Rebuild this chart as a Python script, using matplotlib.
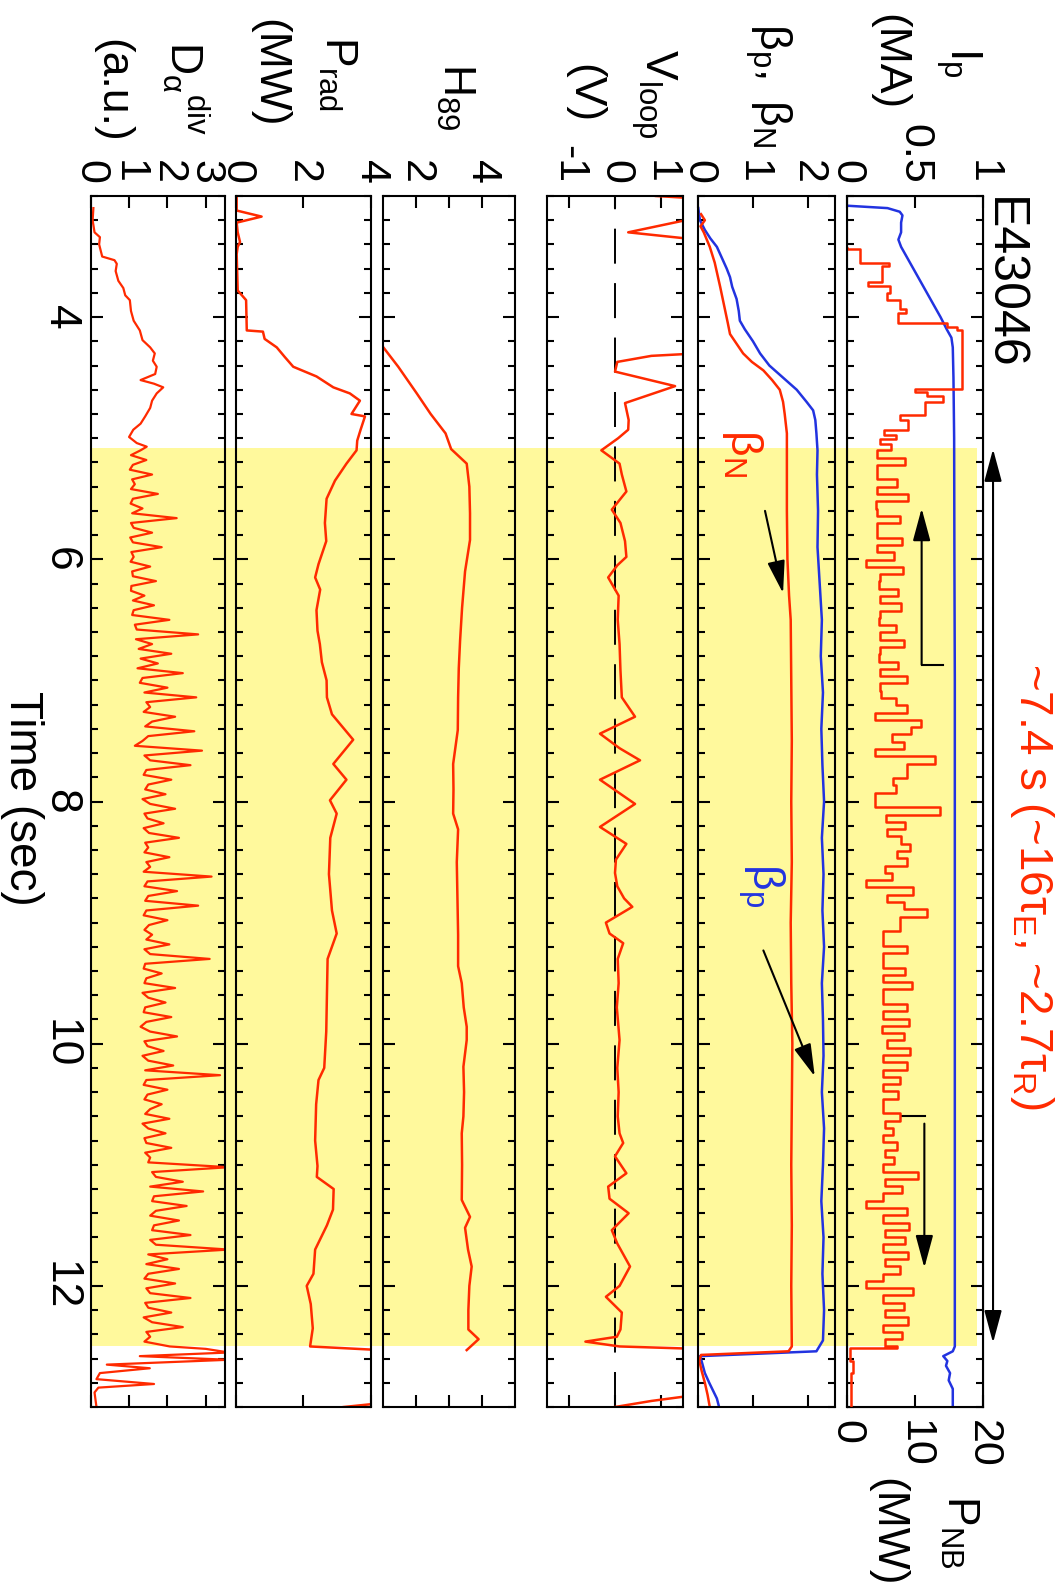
import numpy as np
import matplotlib
matplotlib.use('Agg')
import matplotlib.pyplot as plt
from matplotlib.patches import Rectangle
from matplotlib.ticker import MultipleLocator

plt.rcParams['font.family'] = ['Liberation Sans', 'DejaVu Sans']
plt.rcParams['mathtext.fontset'] = 'custom'
plt.rcParams['mathtext.rm'] = 'Liberation Sans'
plt.rcParams['mathtext.it'] = 'Liberation Sans:italic'
plt.rcParams['mathtext.bf'] = 'Liberation Sans:bold'

RED = '#ff2a00'
BLUE = '#2233e0'
YELLOW = '#fff99c'

# steady-state window (s)
window = (5.08, 12.50)

# plasma current (MA)
ip_t = [3.08, 3.10, 3.13, 3.16, 3.22, 3.30, 3.36, 3.42, 3.50, 3.60, 3.70, 3.80, 3.90,
        4.00, 4.10, 4.17, 4.25, 4.50, 5.00, 6.00, 7.00, 8.00, 9.00, 10.00, 11.00, 12.00,
        12.50, 12.54, 12.58, 12.62, 12.66, 12.72, 12.78, 12.85, 13.00]
ip = [0.0, 0.30, 0.39, 0.41, 0.40, 0.40, 0.38, 0.40, 0.44, 0.49, 0.54, 0.59, 0.64,
      0.69, 0.735, 0.77, 0.78, 0.785, 0.79, 0.792, 0.795, 0.795, 0.795, 0.795, 0.795, 0.795,
      0.795, 0.78, 0.71, 0.74, 0.73, 0.76, 0.75, 0.78, 0.78]

# NB power (MW), ramp-up part
pnb_t_ramp = [3.43, 3.44, 3.55, 3.58, 3.71, 3.74, 3.80, 3.86, 3.93, 3.97, 4.05, 4.08, 4.11,
              4.59, 4.62, 4.65, 4.70, 4.81, 4.85, 4.93, 4.97, 5.01, 5.05]
pnb_ramp = [0.0, 1.96, 6.2, 5.2, 3.2, 6.3, 5.9, 7.8, 8.7, 7.6, 14.7, 16.2, 16.9,
            10.0, 11.8, 14.2, 11.5, 7.8, 9.0, 5.5, 7.2, 4.9, 6.5]
# NB power during the feedback-controlled phase, one sample per 0.06 s from 5.10 s
pnb_flat = [4.4, 8.6, 4.4, 4.5, 7.4, 4.4, 9.0, 4.3, 4.5, 7.8, 4.4, 4.4, 8.2, 4.5, 7.0,
            2.9, 8.3, 4.9, 4.8, 7.6,
            4.9, 8.0, 4.9, 4.8, 7.3, 4.9, 8.5, 4.9, 4.8, 7.6, 4.9, 8.8, 4.9, 5.0,
            7.2, 8.8, 4.2, 11.0, 9.4, 6.6, 8.4,
            4.2, 13.0,
            8.8, 8.8, 6.8, 7.3, 4.2, 4.2, 13.7,
            5.8, 8.6, 6.0, 8.0, 9.3, 7.4, 8.8,
            5.6, 6.6, 2.9, 9.8, 6.0, 8.5,
            11.8, 7.8, 7.8, 5.4,
            5.4, 8.8, 5.4, 5.4, 8.6, 5.4, 9.6, 5.4, 5.4, 8.9, 5.4,
            9.2, 5.2, 8.5, 6.0, 9.3, 5.3, 8.8,
            5.4, 7.8, 5.4, 7.6, 5.4, 5.4, 7.8,
            5.6, 6.8, 5.4, 7.4, 5.6, 6.9, 5.4, 10.5,
            5.6, 8.2, 5.4, 2.9, 8.8,
            5.4, 9.2, 5.6, 8.6, 5.4, 9.0, 5.6, 7.8, 5.4,
            2.9, 9.8, 5.4, 8.4, 5.6, 9.0, 5.4, 8.2, 5.6, 7.4]
pnb_t_end = [12.51, 12.62, 12.72, 13.00]
pnb_end = [0.5, 0.9, 0.6, 0.6]

# poloidal and normalised beta
bp_t = [3.10, 3.20, 3.28, 3.35, 3.42, 3.50, 3.60, 3.67, 3.75, 3.85, 3.95, 4.03, 4.10, 4.20,
        4.30, 4.40, 4.50, 4.60, 4.70, 4.77, 4.85, 4.96, 5.10, 5.30, 5.60, 5.90, 6.20, 6.50,
        6.80, 7.10, 7.40, 7.70, 8.00, 8.30, 8.60, 8.90, 9.20, 9.50, 9.80, 10.10, 10.40,
        10.70, 11.00, 11.30, 11.60, 11.90, 12.20, 12.45, 12.54, 12.58, 12.62, 12.72,
        12.80, 12.93, 13.00]
bp = [0.00, 0.03, 0.12, 0.22, 0.34, 0.42, 0.52, 0.58, 0.62, 0.70, 0.74, 0.76, 0.85, 1.00,
      1.13, 1.30, 1.55, 1.80, 1.98, 2.10, 2.14, 2.16, 2.18, 2.17, 2.19, 2.18, 2.22, 2.26,
      2.24, 2.28, 2.25, 2.27, 2.30, 2.26, 2.29, 2.27, 2.30, 2.26, 2.28, 2.29, 2.26,
      2.30, 2.28, 2.25, 2.29, 2.27, 2.30, 2.28, 2.16, 0.03, 0.06, 0.12,
      0.20, 0.34, 0.38]
bn_t = [3.15, 3.20, 3.25, 3.30, 3.42, 3.55, 3.65, 3.75, 3.90, 4.05, 4.14, 4.22, 4.30, 4.37,
        4.44, 4.52, 4.60, 4.70, 4.80, 4.96, 5.20, 5.60, 6.00, 6.30, 6.50, 7.00, 7.50, 8.00,
        8.50, 9.00, 9.50, 10.00, 10.50, 11.00, 11.50, 12.00, 12.50, 12.54, 12.57, 12.62,
        12.70, 12.80, 12.90, 13.00]
bn = [0.05, 0.12, 0.04, 0.10, 0.21, 0.30, 0.35, 0.40, 0.47, 0.54, 0.58, 0.70, 0.82, 0.98,
      1.19, 1.35, 1.49, 1.55, 1.58, 1.62, 1.62, 1.62, 1.63, 1.66, 1.69, 1.70, 1.71, 1.70,
      1.71, 1.69, 1.70, 1.72, 1.71, 1.70, 1.71, 1.70, 1.71, 1.65, 0.05, 0.02,
      0.06, 0.12, 0.17, 0.21]

# loop voltage (V)
vl_t = [3.00, 3.02, 3.18, 3.30, 3.36, 4.30, 4.32, 4.37, 4.45, 4.57, 4.71, 4.85, 4.93, 5.00,
        5.10, 5.21, 5.30, 5.44, 5.59, 5.70, 5.85, 5.98, 6.05, 6.15, 6.30, 6.50, 6.70, 6.92,
        7.14, 7.30, 7.44, 7.56, 7.66, 7.82, 8.02, 8.21, 8.35, 8.48, 8.59, 8.70, 8.80, 8.87,
        9.00, 9.09, 9.17, 9.30, 9.50, 9.70, 9.97, 10.20, 10.40, 10.60, 10.74, 10.82, 10.93,
        11.07, 11.18, 11.28, 11.40, 11.54, 11.65, 11.84, 12.00, 12.09, 12.22, 12.36, 12.42,
        12.46, 12.50, 12.52, 12.90, 12.95, 13.00]
vl = [0.9, 1.8, 1.8, 0.29, 1.8, 1.8, 0.8, 0.05, 0.0, 1.32, 0.22, 0.30, 0.29, 0.07,
      -0.30, 0.10, 0.15, 0.25, -0.07, 0.12, 0.22, 0.25, 0.05, -0.15, 0.08, 0.06, 0.10, 0.12,
      0.15, 0.44, -0.33, 0.10, 0.55, -0.33, 0.44, -0.33, 0.25, 0.02, 0.0, 0.05, 0.20, 0.38,
      -0.20, -0.12, 0.18, 0.06, 0.08, 0.04, 0.10, 0.05, 0.08, 0.06, 0.10, 0.18, 0.00,
      0.25, -0.15, -0.12, 0.30, -0.07, 0.05, 0.33, 0.10, -0.20, 0.15, 0.12, 0.04,
      -0.65, 0.10, 1.8, 1.8, 0.8, 0.0]

# confinement enhancement factor H89
h89_t = [4.25, 4.41, 4.63, 4.80, 4.96, 5.09, 5.21, 5.40, 5.62, 5.84, 6.10, 6.40, 6.67, 6.90,
         7.14, 7.41, 7.69, 7.90, 8.10, 8.23, 8.50, 8.80, 9.10, 9.36, 9.50, 9.70, 9.86, 9.97,
         10.19, 10.40, 10.60, 10.74, 11.00, 11.29, 11.43, 11.52, 11.70, 11.84, 12.00, 12.20,
         12.36, 12.44, 12.53]
h89 = [1.02, 1.47, 2.03, 2.45, 2.90, 3.07, 3.54, 3.62, 3.64, 3.64, 3.49, 3.40, 3.34, 3.30,
       3.28, 3.27, 3.13, 3.14, 3.13, 3.28, 3.24, 3.26, 3.28, 3.28, 3.39, 3.45, 3.54, 3.54,
       3.44, 3.46, 3.44, 3.39, 3.40, 3.39, 3.64, 3.49, 3.58, 3.69, 3.62, 3.59,
       3.59, 3.90, 3.54]

# radiated power (MW)
prad_t = [3.00, 3.12, 3.17, 3.22, 3.30, 3.38, 3.42, 3.48, 3.78, 3.86, 4.11, 4.12, 4.18, 4.25,
          4.33, 4.41, 4.49, 4.58, 4.63, 4.69, 4.80, 4.82, 4.93, 5.02, 5.10, 5.21, 5.35, 5.50,
          5.70, 5.85, 6.04, 6.15, 6.25, 6.42, 6.59, 6.70, 6.85, 7.00, 7.14, 7.28, 7.49, 7.69,
          7.82, 7.99, 8.10, 8.30, 8.60, 8.90, 9.09, 9.30, 9.60, 9.90, 10.20, 10.30, 10.50,
          10.80, 11.01, 11.10, 11.20, 11.37, 11.50, 11.70, 11.90, 12.00, 12.15, 12.35, 12.50,
          12.53, 12.58, 12.96, 13.00]
prad = [0.02, 0.02, 0.76, 0.02, 0.05, 0.12, 0.05, 0.02, 0.05, 0.30, 0.32, 0.80, 0.85, 1.21,
        1.45, 1.70, 2.39, 2.89, 3.38, 3.68, 3.43, 3.83, 3.70, 3.60, 3.58, 3.28, 2.94, 2.69,
        2.64, 2.68, 2.45, 2.35, 2.50, 2.39, 2.42, 2.49, 2.55, 2.69, 2.70, 2.85, 3.48, 2.89,
        3.28, 2.79, 2.99, 2.80, 2.76, 2.85, 2.99, 2.72, 2.70, 2.68, 2.62, 2.45, 2.38,
        2.35, 2.42, 2.40, 2.90, 2.88, 2.70, 2.35, 2.30, 2.10, 2.22, 2.28, 2.20,
        4.3, 4.6, 4.6, 3.2]

# divertor D-alpha (a.u.)
da_t_ramp = [3.10, 3.20, 3.30, 3.34, 3.40, 3.50, 3.53, 3.56, 3.62, 3.70, 3.76, 3.82, 3.86,
             3.95, 4.03, 4.11, 4.19, 4.25, 4.30, 4.36, 4.41, 4.47, 4.52, 4.55, 4.58, 4.63,
             4.69, 4.75, 4.82, 4.88, 4.93, 4.99, 5.04, 5.07]
da_ramp = [0.07, 0.05, 0.10, 0.24, 0.22, 0.30, 0.62, 0.68, 0.65, 0.72, 0.85, 0.90, 1.02,
           1.05, 1.12, 1.28, 1.35, 1.55, 1.67, 1.62, 1.72, 1.68, 1.30, 1.65, 1.89, 1.72,
           1.60, 1.55, 1.42, 1.30, 1.11, 1.00, 1.20, 1.46]
# ELMy phase, one sample per 0.04 s from 5.10 s
da_flat = [1.30, 1.05, 1.45, 1.10, 1.02, 1.60, 1.08, 1.15, 1.05, 1.75,
           1.10, 1.04, 1.35, 1.08, 2.24, 1.05, 1.12, 1.60, 1.03, 1.10,
           1.85, 1.06, 1.12, 1.04, 1.55, 1.08, 1.10, 1.70, 1.06, 1.05,
           1.40, 1.10, 1.65, 1.12, 1.08, 2.05, 1.15, 1.20, 2.80, 1.18,
           1.60, 1.25, 2.10, 1.30, 1.75, 1.22, 2.40, 1.35, 1.28, 2.00,
           1.40, 2.75, 1.45, 1.55, 1.38, 2.20, 1.60, 1.42, 2.70, 1.50,
           1.35, 1.15, 2.90, 1.40, 1.55, 2.60, 1.45, 1.38, 2.10, 1.50,
           1.42, 1.95, 1.35, 1.55, 2.20, 1.40, 1.48, 1.90, 1.38, 1.52,
           2.30, 1.42, 1.50, 1.40, 2.05, 1.45, 1.55, 1.38, 3.15, 1.48,
           1.40, 2.25, 1.50, 1.42, 2.80, 1.45, 1.38, 2.00, 1.52, 1.40,
           1.60, 1.45, 2.05, 1.40, 1.55, 3.10, 1.42, 1.38, 1.85, 1.45,
           1.40, 2.20, 1.35, 1.50, 1.95, 1.42, 1.38, 2.10, 1.45, 1.30,
           1.55, 2.25, 1.40, 1.48, 1.90, 1.35, 1.50, 2.15, 1.42, 3.37,
           1.45, 1.38, 2.00, 1.48, 1.40, 1.85, 1.55, 1.42, 2.05, 1.35,
           1.50, 1.95, 1.40, 1.45, 2.10, 1.42, 1.55, 1.50, 3.60, 1.60,
           1.70, 2.40, 1.55, 2.93, 1.65, 1.60, 2.50, 1.70, 1.55, 2.30,
           1.65, 1.60, 2.60, 1.55, 1.70, 3.60, 1.50, 2.00, 1.45, 2.30,
           1.50, 1.40, 2.20, 1.45, 1.55, 2.60, 1.42, 1.50, 2.10, 1.38,
           1.60, 2.40, 1.45, 1.55, 1.40, 2.06]
da_t_end = [12.52, 12.55, 12.58, 12.61, 12.65, 12.68, 12.72, 12.77, 12.81, 12.84, 12.88, 13.00]
da_end = [3.0, 3.6, 1.28, 3.6, 0.42, 1.54, 0.24, 0.15, 1.65, 0.20, 0.10, 0.15]

pnb_t = pnb_t_ramp + list(np.linspace(5.10, 12.50, len(pnb_flat))) + pnb_t_end
pnb = pnb_ramp + pnb_flat + pnb_end
da_t = da_t_ramp + list(np.linspace(5.10, 12.50, len(da_flat))) + da_t_end
da = da_ramp + da_flat + da_end

# value-axis ticks for each panel
ip_ticks, ip_labels = [0, 0.5, 1], ['0', '0.5', '1']
pnb_ticks, pnb_labels = [0, 10, 20], ['0', '10', '20']
beta_ticks, beta_labels = [0, 1, 2], ['0', '1', '2']
vl_ticks, vl_labels = [-1, 0, 1], ['-1', '0', '1']
h89_ticks, h89_labels = [2, 3, 4], ['2', '', '4']
prad_ticks, prad_labels = [0, 2, 4], ['0', '2', '4']
da_ticks, da_labels = [0, 1, 2, 3], ['0', '1', '2', '3']
time_ticks, time_labels = [4, 6, 8, 10, 12], ['4', '6', '8', '10', '12']

W, H = 1061, 1593
TOP, BOT = 196, 1407
fig = plt.figure(figsize=(W / 100, H / 100), dpi=100)

# the whole figure is laid out turned by 90 degrees: time runs downwards
fig.patches.append(Rectangle((90.7 / W, 1 - (196 + 121.1 * (window[1] - 3)) / H),
                             (977 - 90.7) / W, 121.1 * (window[1] - window[0]) / H,
                             transform=fig.transFigure, facecolor=YELLOW,
                             edgecolor='none', zorder=-5))


def panel(x0, x1, xlim, ticks, labels):
    ax = fig.add_axes([x0 / W, 1 - BOT / H, (x1 - x0) / W, (BOT - TOP) / H])
    ax.patch.set_visible(False)
    ax.set_xlim(*xlim)
    ax.set_ylim(13, 3)
    ax.yaxis.set_major_locator(MultipleLocator(2))
    ax.yaxis.set_minor_locator(MultipleLocator(0.2))
    ax.set_xticks(ticks, labels=labels, rotation=-90)
    ax.tick_params(axis='both', which='both', direction='in', width=1.5,
                   left=True, right=True, top=True, bottom=True,
                   labelleft=False, labelright=False, labelbottom=False,
                   labeltop=True, labelsize=31)
    ax.tick_params(axis='both', which='major', length=8.5)
    ax.tick_params(axis='y', which='minor', length=5)
    ax.tick_params(axis='x', pad=9)
    for s in ax.spines.values():
        s.set_linewidth(1.5)
    return ax


ax_da = panel(90.7, 225, (0, 3.5), da_ticks, da_labels)
ax_pr = panel(236, 370.7, (0, 4), prad_ticks, prad_labels)
ax_h = panel(382.7, 515, (1, 5), h89_ticks, h89_labels)
ax_v = panel(546.7, 683.3, (-1.5, 1.5), vl_ticks, vl_labels)
ax_b = panel(698.3, 835, (0, 2.5), beta_ticks, beta_labels)
ax_i = panel(846.7, 982.7, (0, 1), ip_ticks, ip_labels)

# NB power shares the current panel, on its own scale at the bottom
ax_nb = ax_i.twiny()
ax_nb.patch.set_visible(False)
ax_nb.set_xlim(0, 20)
ax_nb.set_xticks(pnb_ticks, labels=pnb_labels, rotation=-90)
ax_nb.tick_params(axis='x', direction='in', width=1.5, length=8.5, pad=9, labelsize=31,
                  top=False, bottom=True, labeltop=False, labelbottom=True)
ax_i.tick_params(axis='x', top=True, bottom=False, labeltop=True, labelbottom=False)

ax_da.set_yticks(time_ticks, labels=time_labels, rotation=-90, va='center')
ax_da.tick_params(axis='y', which='major', labelleft=True, pad=7, labelsize=32)

lw = 1.8
ax_i.plot(ip, ip_t, color=BLUE, lw=lw)
ax_nb.plot(pnb, pnb_t, color=RED, lw=lw, drawstyle='steps-pre')
ax_b.plot(bp, bp_t, color=BLUE, lw=lw)
ax_b.plot(bn, bn_t, color=RED, lw=lw)
ax_v.axvline(0, color='k', lw=1.4, ls=(0, (18, 10)))
ax_v.plot(vl, vl_t, color=RED, lw=lw)
ax_h.plot(h89, h89_t, color=RED, lw=lw)
ax_pr.plot(prad, prad_t, color=RED, lw=lw)
ax_da.plot(da, da_t, color=RED, lw=1.6)

head = '-|>,head_length=1.0,head_width=0.27'
aprops = dict(arrowstyle=head, color='k', lw=1.5, shrinkA=0, shrinkB=0, mutation_scale=20)
ax_b.annotate('', xy=(1.55, 6.28), xytext=(1.22, 5.60), arrowprops=aprops)
ax_b.annotate('', xy=(2.13, 10.27), xytext=(1.19, 9.23), arrowprops=aprops)
ax_i.plot([0.551, 0.71], [6.87, 6.87], color='k', lw=1.5)
ax_i.annotate('', xy=(0.551, 5.58), xytext=(0.551, 6.87), arrowprops=aprops)
ax_i.plot([0.404, 0.576], [10.60, 10.60], color='k', lw=1.5)
ax_i.annotate('', xy=(0.571, 11.85), xytext=(0.571, 10.66), arrowprops=aprops)
dprops = dict(aprops, arrowstyle='<|-|>,head_length=1.0,head_width=0.27')
ax_i.annotate('', xy=(1.076, 12.47), xytext=(1.076, 5.09),
              xycoords=ax_i.get_yaxis_transform(), textcoords=ax_i.get_yaxis_transform(),
              arrowprops=dprops, annotation_clip=False)


def vtext(xb, yc, s, size=32, color='k'):
    fig.text(xb / W, 1 - yc / H, s, rotation=-90, rotation_mode='anchor',
             ha='center', va='baseline', fontsize=size, color=color)


vtext(950, 62, r'$\mathregular{I_p}$')
vtext(877, 62, '(MA)')
vtext(759, 85, r'$\mathregular{β_p,\ β_N}$')
vtext(645, 94, r'$\mathregular{V_{loop}}$')
vtext(572, 94, '(V)')
vtext(443, 97, r'$\mathregular{H_{89}}$')
vtext(325, 74, r'$\mathregular{P_{rad}}$')
vtext(257, 73, '(MW)')
vtext(170, 88, r'$\mathregular{D_{α}{}^{div}}$')
vtext(100, 91, '(a.u.)')
vtext(947, 1532, r'$\mathregular{P_{NB}}$')
vtext(875, 1532, '(MW)')
vtext(990, 283, 'E43046', size=36)
vtext(1020, 886, r'~7.4 s (~16$\mathregular{τ_E}$, ~2.7$\mathregular{τ_R}$)', size=33, color=RED)
vtext(10, 798, 'Time (sec)', size=33)
vtext(731, 453, r'$\mathregular{β_N}$', color=RED)
vtext(752, 885, r'$\mathregular{β_p}$', color=BLUE)

fig.savefig('out.png', dpi=100)
